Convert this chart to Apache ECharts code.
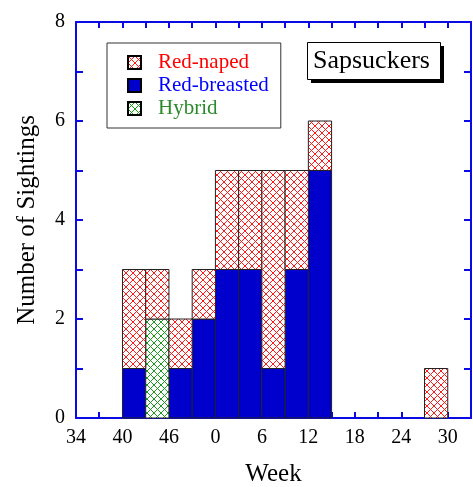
<!DOCTYPE html>
<html>
<head>
<meta charset="utf-8">
<script src="https://cdn.jsdelivr.net/npm/echarts@6/dist/echarts.min.js"></script>
<style>
    html, body { margin: 0; padding: 0; background: #fff; }
    #main { width: 473px; height: 487px; }
</style>
</head>
<body>
<div id="main"></div>
<script>
    // week at the start of each 3-week bin (weeks wrap round at 52)
    const binStart = [40, 43, 46, 49, 0, 3, 6, 9, 12, 27];
    const redBreasted = [1, 0, 1, 2, 3, 3, 1, 3, 5, 0];
    const hybrid = [0, 2, 0, 0, 0, 0, 0, 0, 0, 0];
    const redNaped = [2, 1, 1, 1, 2, 2, 4, 2, 1, 1];
    const binWidth = 3;
    const xTickLabels = ['34', '40', '46', '0', '6', '12', '18', '24', '30'];
    const yTickLabels = ['0', '2', '4', '6', '8'];
    const firstWeek = 34;

    const axisBlue = '#0a0ae6';
    const barBlue = '#0000cc';
    const serif = '"Liberation Serif", "DejaVu Serif", serif';

    function hatch(color) {
        const c = document.createElement('canvas');
        c.width = 7; c.height = 7;
        const ctx = c.getContext('2d');
        ctx.fillStyle = '#fff';
        ctx.fillRect(0, 0, 7, 7);
        ctx.strokeStyle = color;
        ctx.lineWidth = 1;
        ctx.beginPath();
        ctx.moveTo(0, 0); ctx.lineTo(7, 7);
        ctx.moveTo(0, 7); ctx.lineTo(7, 0);
        ctx.stroke();
        return { image: c, repeat: 'repeat' };
    }

    // turn the counts into stacked rectangles [x0, x1, y0, y1]
    function toWeekOffset(w) { return (w - firstWeek + 52) % 52; }
    const rbData = [], hyData = [], rnData = [];
    for (let i = 0; i < binStart.length; i++) {
        const x0 = toWeekOffset(binStart[i]);
        const x1 = x0 + binWidth;
        let base = 0;
        rbData.push([x0, x1, base, base + redBreasted[i]]); base += redBreasted[i];
        hyData.push([x0, x1, base, base + hybrid[i]]); base += hybrid[i];
        rnData.push([x0, x1, base, base + redNaped[i]]);
    }

    function makeRender(fill) {
        return function (params, api) {
            const y0 = api.value(2), y1 = api.value(3);
            if (y1 <= y0) return null;
            const p0 = api.coord([api.value(0), y1]);
            const p1 = api.coord([api.value(1), y0]);
            return {
                type: 'rect',
                shape: { x: p0[0], y: p0[1], width: p1[0] - p0[0], height: p1[1] - p0[1] },
                style: { fill: fill, stroke: '#222', lineWidth: 1 }
            };
        };
    }

    const redHatch = hatch('#ff1a1a');
    const greenHatch = hatch('#1a9a1a');

    const xAxisBase = {
        type: 'value', min: 0, max: 51, interval: 3,
        axisLine: { show: true, onZero: false, lineStyle: { color: axisBlue, width: 2 } },
        axisTick: { show: true, inside: true, length: 6, lineStyle: { color: axisBlue, width: 2 } },
        splitLine: { show: false }
    };
    const yAxisBase = {
        type: 'value', min: 0, max: 8, interval: 1,
        axisLine: { show: true, onZero: false, lineStyle: { color: axisBlue, width: 2 } },
        axisTick: { show: true, inside: true, length: 7, lineStyle: { color: axisBlue, width: 2 } },
        splitLine: { show: false }
    };

    const chart = echarts.init(document.getElementById('main'));
    chart.setOption({
        animation: false,
        backgroundColor: '#fff',
        grid: { left: 76, top: 22, right: 2, bottom: 69, outerBoundsMode: 'none', containLabel: false },
        graphic: [
            { type: 'rect', left: 311, top: 46, z: 10, shape: { width: 133, height: 37 }, style: { fill: '#000' } },
            { type: 'rect', left: 307, top: 42, z: 11, shape: { width: 133, height: 37 }, style: { fill: '#fff', stroke: '#000', lineWidth: 1 } },
            {
                type: 'text', left: 313, top: 48, z: 12,
                style: { text: 'Sapsuckers', fontFamily: serif, fontSize: 26, fill: '#000' }
            }
        ],
        legend: {
            orient: 'vertical',
            left: 107, top: 43,
            padding: [9, 12, 9, 20],
            itemWidth: 13, itemHeight: 13, itemGap: 2,
            icon: 'rect',
            selectedMode: false,
            backgroundColor: '#fff',
            borderColor: '#333', borderWidth: 1,
            textStyle: { fontFamily: serif, fontSize: 21, padding: [0, 0, 0, 12] },
            data: [
                { name: 'Red-naped', textStyle: { color: '#ff0000' } },
                { name: 'Red-breasted', textStyle: { color: '#0000ff' } },
                { name: 'Hybrid', textStyle: { color: '#2a8a2a' } }
            ]
        },
        xAxis: [
            Object.assign({}, xAxisBase, {
                position: 'bottom',
                name: 'Week', nameLocation: 'middle', nameGap: 44,
                nameTextStyle: { fontFamily: serif, fontSize: 25, color: '#000' },
                axisLabel: {
                    margin: 10, fontFamily: serif, fontSize: 20, color: '#000',
                    formatter: function (v) { return v % 6 === 0 ? xTickLabels[v / 6] : ''; }
                }
            }),
            Object.assign({}, xAxisBase, { position: 'top', axisLabel: { show: false } })
        ],
        yAxis: [
            Object.assign({}, yAxisBase, {
                position: 'left',
                name: 'Number of Sightings', nameLocation: 'middle', nameGap: 36,
                nameTextStyle: { fontFamily: serif, fontSize: 25, color: '#000' },
                axisLabel: {
                    margin: 11, fontFamily: serif, fontSize: 20, color: '#000',
                    formatter: function (v) { return v % 2 === 0 ? yTickLabels[v / 2] : ''; }
                }
            }),
            Object.assign({}, yAxisBase, { position: 'right', axisLabel: { show: false } })
        ],
        series: [
            {
                name: 'Red-breasted', type: 'custom', renderItem: makeRender(barBlue),
                itemStyle: { color: barBlue, borderColor: '#000', borderWidth: 1 },
                encode: { x: [0, 1], y: [2, 3] }, data: rbData
            },
            {
                name: 'Hybrid', type: 'custom', renderItem: makeRender(greenHatch),
                itemStyle: { color: greenHatch, borderColor: '#000', borderWidth: 1 },
                encode: { x: [0, 1], y: [2, 3] }, data: hyData
            },
            {
                name: 'Red-naped', type: 'custom', renderItem: makeRender(redHatch),
                itemStyle: { color: redHatch, borderColor: '#000', borderWidth: 1 },
                encode: { x: [0, 1], y: [2, 3] }, data: rnData
            }
        ]
    });
</script>
</body>
</html>
